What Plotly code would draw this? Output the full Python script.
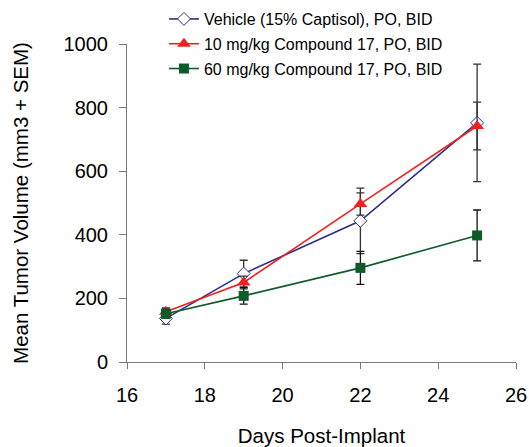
import plotly.graph_objects as go

days = [17, 19, 22, 25]
vehicle = [137, 278, 444, 752]
vehicle_err = [18, 42, 103, 185]
cmp10 = [158, 250, 497, 742]
cmp10_err = [12, 20, 35, 75]
cmp60 = [152, 208, 296, 398]
cmp60_err = [14, 26, 52, 80]

names = ["Vehicle (15% Captisol), PO, BID",
         "10 mg/kg Compound 17, PO, BID",
         "60 mg/kg Compound 17, PO, BID"]

font = "Liberation Sans, Arial, sans-serif"

fig = go.Figure()
fig.add_trace(go.Scatter(
    x=days, y=vehicle, name=names[0], mode="lines+markers", legendgroup="a",
    line=dict(color="#2b2f8c", width=1.6),
    marker=dict(symbol="diamond", size=10, color="white",
                line=dict(color="#2b2f8c", width=1)),
    error_y=dict(type="data", array=vehicle_err, color="#333333",
                 thickness=1.3, width=4)))
fig.add_trace(go.Scatter(
    x=days, y=cmp10, name=names[1], mode="lines+markers", legendgroup="b",
    line=dict(color="#f02020", width=1.6),
    marker=dict(symbol="triangle-up", size=12, color="#f02020"),
    error_y=dict(type="data", array=cmp10_err, color="#333333",
                 thickness=1.3, width=4)))
fig.add_trace(go.Scatter(
    x=days, y=cmp60, name=names[2], mode="lines+markers", legendgroup="c",
    line=dict(color="#0e5a28", width=1.6),
    marker=dict(symbol="square", size=10, color="#0e5a28"),
    error_y=dict(type="data", array=cmp60_err, color="#111111",
                 thickness=1.3, width=4)))

fig.update_layout(
    width=529, height=447,
    margin=dict(l=127, r=13, t=44, b=85, autoexpand=False),
    paper_bgcolor="white", plot_bgcolor="white",
    font=dict(family=font, color="black"),
    showlegend=True,
    legend=dict(x=0.095, y=1.132, xanchor="left", yanchor="top",
                bgcolor="rgba(0,0,0,0)", font=dict(size=16, family=font),
                itemwidth=30, tracegroupgap=1),
    xaxis=dict(range=[16, 26], tickvals=[16, 18, 20, 22, 24, 26],
               showgrid=False, zeroline=False, showline=True,
               linecolor="#777777", linewidth=1, ticks="outside",
               ticklen=6, tickcolor="#777777", automargin=False,
               tickfont=dict(size=20), ticklabelstandoff=9,
               title=dict(text="Days Post-Implant", font=dict(size=20.5),
                          standoff=24)),
    yaxis=dict(range=[0, 1000], tickvals=[0, 200, 400, 600, 800, 1000],
               showgrid=False, zeroline=False, showline=True,
               linecolor="#777777", linewidth=1, ticks="outside",
               ticklen=7, tickcolor="#777777", automargin=False,
               tickfont=dict(size=20), ticklabelstandoff=7,
               title=dict(text="Mean Tumor Volume (mm3 + SEM)",
                          font=dict(size=20.5), standoff=29)),
)

fig.write_html("out.html", config={"displayModeBar": False},
               post_script="document.body.style.margin='0';document.body.style.overflow='hidden';")
